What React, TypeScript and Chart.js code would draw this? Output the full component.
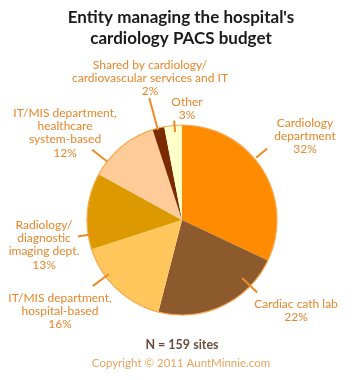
import React, { useEffect, useRef } from "react";
import { Chart, registerables } from "chart.js";

Chart.register(...registerables);

const titleLines = ["Entity managing the hospital's", "cardiology PACS budget"];
const categories = [
  "Cardiology department",
  "Cardiac cath lab",
  "IT/MIS department, hospital-based",
  "Radiology/diagnostic imaging dept.",
  "IT/MIS department, healthcare system-based",
  "Shared by cardiology/cardiovascular services and IT",
  "Other",
];
const values = [32, 22, 16, 13, 12, 2, 3];
const colors = ["#FF8C00", "#8C5A2D", "#FFC65C", "#DC9A00", "#FFCC99", "#7B2B00", "#FFFFC8"];
const labelLines = [
  ["Cardiology", "department", "32%"],
  ["Cardiac cath lab", "22%"],
  ["IT/MIS department,", "hospital-based", "16%"],
  ["Radiology/", "diagnostic", "imaging dept.", "13%"],
  ["IT/MIS department,", "healthcare", "system-based", "12%"],
  ["Shared by cardiology/", "cardiovascular services and IT", "2%"],
  ["Other", "3%"],
];
const footnote = "N = 159 sites";
const copyright = "Copyright \u00A9 2011 AuntMinnie.com";

// label layout (text anchor x,y of first line; leader line angle deg clockwise from top, radii as fraction of pie radius)
const labelLayout = [
  { x: 305, y: 123, ang: 50, r1: 1.02, r2: 1.17 },
  { x: 296, y: 304, ang: 134, r1: 0.88, r2: 1.1 },
  { x: 60, y: 298, ang: 233.5, r1: 0.96, r2: 1.17 },
  { x: 44, y: 225, ang: 261, r1: 0.9, r2: 1.11 },
  { x: 65, y: 113, ang: 308, r1: 1.0, r2: 1.2 },
  { x: 150, y: 65, ang: 345, r1: 0.98, r2: 1.33 },
  { x: 187, y: 102, ang: 355.5, r1: 0.93, r2: 1.05 },
];

const FONT = "Lato, 'DejaVu Sans', sans-serif";
const LABEL_COLOR = "#E8862A";

const annotatePlugin = {
  id: "annotate",
  afterDatasetsDraw(chart: any) {
    const ctx = chart.ctx;
    const meta = chart.getDatasetMeta(0);
    const arc0 = meta.data[0];
    const cx = arc0.x;
    const cy = arc0.y;
    const R = arc0.outerRadius;
    ctx.save();
    // outer outline
    ctx.beginPath();
    ctx.arc(cx, cy, R, 0, Math.PI * 2);
    ctx.strokeStyle = "#F8A94E";
    ctx.lineWidth = 1.2;
    ctx.stroke();

    // leader lines
    ctx.strokeStyle = "#EE8A25";
    ctx.lineWidth = 2;
    labelLayout.forEach((l) => {
      const a = (l.ang * Math.PI) / 180;
      const sx = Math.sin(a);
      const sy = -Math.cos(a);
      ctx.beginPath();
      ctx.moveTo(cx + sx * R * l.r1, cy + sy * R * l.r1);
      ctx.lineTo(cx + sx * R * l.r2, cy + sy * R * l.r2);
      ctx.stroke();
    });

    // labels
    ctx.fillStyle = LABEL_COLOR;
    ctx.font = `12px ${FONT}`;
    ctx.textAlign = "center";
    ctx.textBaseline = "middle";
    labelLines.forEach((lines, i) => {
      const l = labelLayout[i];
      lines.forEach((t, j) => ctx.fillText(t, l.x, l.y + j * 13.3));
    });

    // title
    ctx.fillStyle = "#1a1a1a";
    ctx.font = `bold 17px ${FONT}`;
    titleLines.forEach((t, j) => ctx.fillText(t, 181, 18 + j * 21));

    // footnote
    ctx.fillStyle = "#6B4E3A";
    ctx.font = `bold 12.5px ${FONT}`;
    ctx.fillText(footnote, 182, 345);
    ctx.fillStyle = "#E9A35C";
    ctx.font = `11.5px ${FONT}`;
    ctx.fillText(copyright, 181, 363);
    ctx.restore();
  },
};

export default function App() {
  const ref = useRef<HTMLCanvasElement>(null);
  useEffect(() => {
    document.body.style.margin = "0";
    const chart = new Chart(ref.current!, {
      type: "pie",
      data: {
        labels: categories,
        datasets: [
          {
            data: values,
            backgroundColor: colors,
            borderWidth: 0,
          },
        ],
      },
      options: {
        responsive: false,
        animation: false,
        layout: { padding: { left: 87, right: 83, top: 125, bottom: 65 } },
        plugins: {
          legend: { display: false },
          tooltip: { enabled: false },
          title: { display: false },
        },
      },
      plugins: [annotatePlugin],
    });
    return () => chart.destroy();
  }, []);
  return (
    <div style={{ position: "absolute", left: 0, top: 0, width: 360, height: 380, background: "#fff" }}>
      <canvas ref={ref} width={360} height={380} style={{ width: 360, height: 380 }} />
    </div>
  );
}
